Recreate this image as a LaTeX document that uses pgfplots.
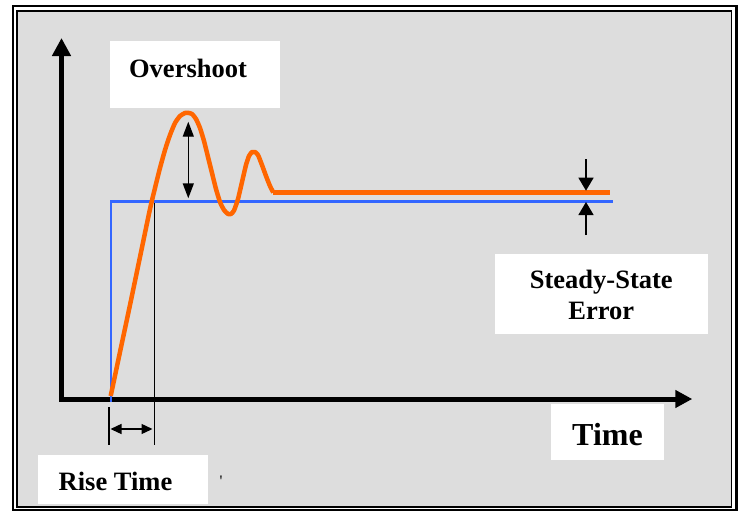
\documentclass[border=0pt]{standalone}
\usepackage{pgfplots}
\pgfplotsset{compat=1.18}
\usepackage{fontspec}
\setmainfont{Liberation Serif}
\usetikzlibrary{arrows.meta}
\definecolor{bggray}{HTML}{DDDDDD}
\definecolor{resp}{HTML}{FF6600}
\definecolor{stepblue}{HTML}{3366FF}
\begin{document}
\begin{tikzpicture}
\begin{axis}[
  width=740pt, height=511pt, scale only axis,
  xmin=0, xmax=740, ymin=0, ymax=511, y dir=reverse,
  axis lines=none, clip=false,
]
% bounding box
\path (axis cs:0,0) rectangle (axis cs:740,511);
% frame
\addplot[draw=black, line width=2.2pt] coordinates {(12.8,6) (736.5,6) (736.5,510.3) (12.8,510.3)} -- cycle;
\addplot[draw=black, fill=bggray, line width=1.6pt] coordinates {(16.8,11) (731.6,11) (731.6,506.7) (16.8,506.7)} -- cycle;
% label boxes
\addplot[fill=white, draw=none] coordinates {(110,41) (280,41) (280,107.5) (110,107.5)} -- cycle;
\addplot[fill=white, draw=none] coordinates {(495,254) (707.7,254) (707.7,333.7) (495,333.7)} -- cycle;
\addplot[fill=white, draw=none] coordinates {(551,404) (663.7,404) (663.7,460) (551,460)} -- cycle;
\addplot[fill=white, draw=none] coordinates {(37.7,455) (207.7,455) (207.7,503.5) (37.7,503.5)} -- cycle;
% axes
\addplot[black, line width=5pt, -{Triangle[length=18pt,width=18pt]}] coordinates {(61.5,401.5) (61.5,38)};
\addplot[black, line width=5pt, -{Triangle[length=17pt,width=17pt]}] coordinates {(59,399) (692.3,399)};
% step input
\addplot[stepblue, line width=2.2pt] coordinates {(110.7,402) (110.7,201.5) (613.3,201.5)};
% response
\addplot[resp, line width=4.5pt, line join=round, smooth, tension=0.35] coordinates {
(110.7,396) (120,352) (130,305) (140,257) (150,209) (155,188) (160,168)
(165,150) (170,135) (175,123) (180,116) (185,113) (188,112.8) (192,114)
(196,119) (200,128) (204,141) (208,157) (212,173) (216,189) (220,202)
(224,210) (228,214) (231,214) (234,210.5) (238,199) (242,182) (246,165)
(249,156) (252,152) (255,152) (258,155) (262,165) (266,176) (270,186)
(273.3,192.5)};
\addplot[resp, line width=4.5pt] coordinates {(273,192.5) (610,192.5)};
% overshoot arrow
\addplot[black, line width=1.4pt, {Triangle[length=15pt,width=11pt]}-{Triangle[length=15pt,width=11pt]}] coordinates {(188.3,121.7) (188.3,198.3)};
% steady-state arrows
\addplot[black, line width=1.4pt, -{Triangle[length=13pt,width=15pt]}] coordinates {(586,159.3) (586,190.7)};
\addplot[black, line width=1.4pt, -{Triangle[length=13pt,width=15pt]}] coordinates {(586,235) (586,202)};
% rise time markers
\addplot[black, line width=1.4pt] coordinates {(154.2,203) (154.2,445)};
\addplot[black, line width=1.4pt] coordinates {(108.8,407) (108.8,445)};
\addplot[black, line width=1.4pt, {Triangle[length=11pt,width=10pt]}-{Triangle[length=11pt,width=10pt]}] coordinates {(110.5,429) (152.5,429)};
% texts
\node[anchor=base, font=\fontsize{26.5}{30}\selectfont\bfseries, inner sep=0pt] at (axis cs:188,77.3) {Overshoot};
\node[anchor=base, font=\fontsize{26.5}{30}\selectfont\bfseries, inner sep=0pt] at (axis cs:601.3,288.3) {Steady-State};
\node[anchor=base, font=\fontsize{26.5}{30}\selectfont\bfseries, inner sep=0pt] at (axis cs:601.3,319.3) {Error};
\node[anchor=base, font=\fontsize{32}{36}\selectfont\bfseries, inner sep=0pt] at (axis cs:607.5,445) {Time};
\node[anchor=base, font=\fontsize{26.5}{30}\selectfont\bfseries, inner sep=0pt] at (axis cs:115.5,490) {Rise Time};
\node[anchor=base, font=\fontsize{16}{18}\selectfont, inner sep=0pt] at (axis cs:221,486) {\textquotesingle};
\end{axis}
\end{tikzpicture}
\end{document}
